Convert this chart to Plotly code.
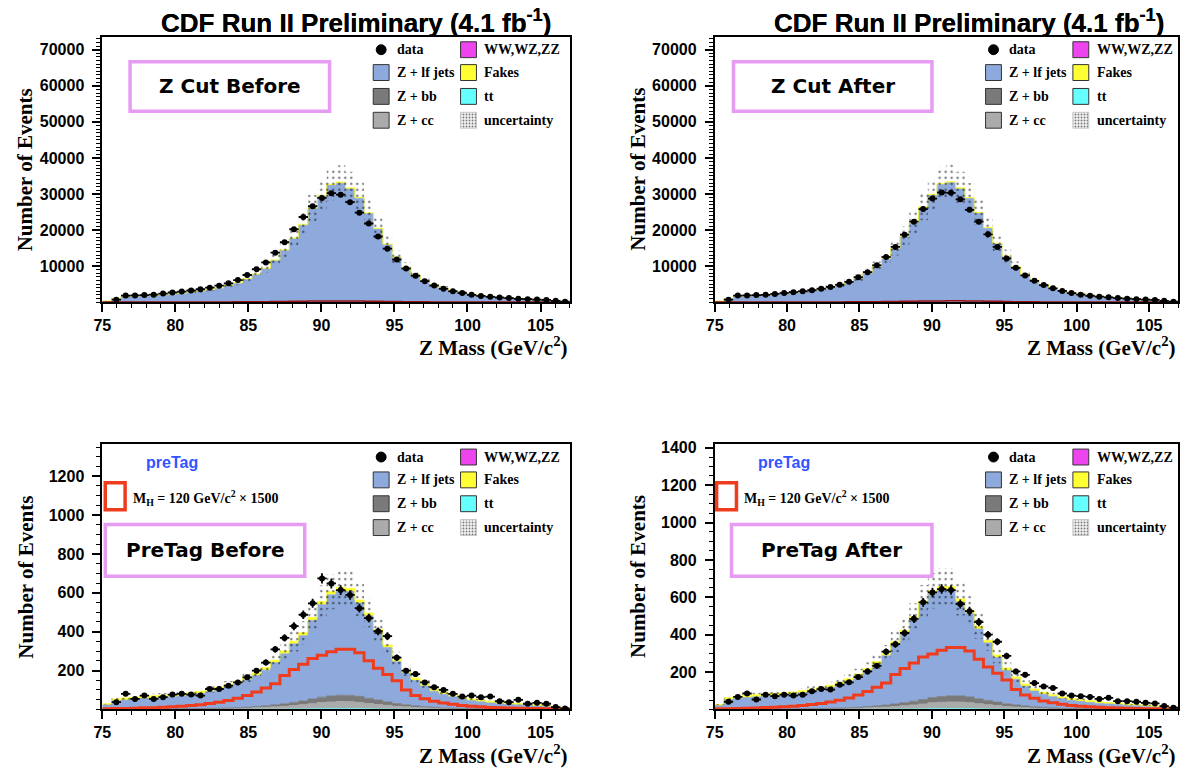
import numpy as np
import plotly.graph_objects as go

W, H = 1190, 769

# ---------------- binning / ticks ----------------
x_lo, bin_w, n_bins = 75.0, 0.64, 50
x_ticks = [75, 80, 85, 90, 95, 100, 105]
y_ticks_zcut = [10000, 20000, 30000, 40000, 50000, 60000, 70000]
y_ticks_pretag_before = [200, 400, 600, 800, 1000, 1200]
y_ticks_pretag_after = [200, 400, 600, 800, 1000, 1200, 1400]

# ---------------- Z cut (top panels) ----------------
data_zcut_before = [0, 650, 1800, 1850, 1950, 2050, 2350, 2650, 2900, 3200,
                    3550, 4000, 4550, 5200, 6100, 7500, 9100, 11000, 13700, 16600,
                    20200, 23600, 26600, 28900, 30200, 29800, 27700, 24800, 21800, 18200,
                    14800, 11800, 9300, 7300, 5800, 4600, 3700, 3000, 2500, 2000,
                    1700, 1450, 1250, 1100, 900, 800, 700, 600, 350, 100]
lf_zcut_before = [250, 800, 1450, 1550, 1650, 1750, 1940, 2190, 2380, 2630,
                  2970, 3360, 3850, 4440, 5230, 6320, 7610, 9200, 11490, 14270,
                  17550, 21330, 25810, 29290, 32380, 32980, 31390, 28810, 24530, 20250,
                  15870, 12290, 9510, 7430, 5850, 4660, 3770, 3080, 2540, 2100,
                  1750, 1510, 1310, 1120, 970, 830, 710, 590, 380, 130]
data_zcut_after = [0, 650, 1800, 1850, 1950, 2000, 2250, 2500, 2750, 3000,
                   3300, 3700, 4200, 4800, 5600, 6900, 8300, 10200, 12500, 15300,
                   18700, 22300, 25800, 28700, 30400, 30300, 28500, 25600, 22300, 18800,
                   15300, 12100, 9500, 7400, 5900, 4700, 3800, 3100, 2500, 2050,
                   1750, 1500, 1300, 1100, 950, 800, 700, 600, 350, 100]
lf_zcut_after = [250, 850, 1500, 1600, 1700, 1800, 1990, 2240, 2480, 2730,
                 3070, 3460, 3950, 4590, 5380, 6520, 7910, 9700, 11990, 14770,
                 18150, 21930, 26110, 29590, 32580, 33080, 31390, 28710, 24630, 20450,
                 16170, 12590, 9710, 7530, 5950, 4760, 3820, 3130, 2590, 2150,
                 1800, 1560, 1330, 1150, 990, 850, 720, 600, 390, 140]
fakes_zcut = [50, 100, 100, 100, 100, 100, 110, 110, 120, 120,
              130, 140, 150, 160, 170, 180, 190, 200, 210, 230,
              250, 270, 290, 310, 320, 320, 310, 290, 270, 250,
              230, 210, 190, 170, 150, 140, 130, 120, 110, 100,
              100, 90, 90, 80, 80, 70, 70, 60, 40, 20]

# ---------------- PreTag (bottom panels) ----------------
data_pretag_before = [0, 37, 80, 54, 71, 54, 63, 76, 80, 76,
                      71, 105, 105, 122, 139, 165, 199, 241, 309, 368,
                      428, 487, 546, 674, 648, 614, 589, 521, 470, 402,
                      377, 266, 199, 182, 139, 114, 100, 80, 66, 71,
                      63, 66, 42, 37, 49, 29, 34, 29, 12, 5]
lf_pretag_before = [23, 44, 46, 50, 53, 57, 60, 63, 66, 72,
                    78, 86, 97, 108, 123, 142, 160, 183, 217, 257,
                    301, 335, 405, 476, 521, 539, 535, 481, 424, 349,
                    279, 215, 163, 131, 106, 83, 70, 59, 48, 41,
                    35, 30, 27, 24, 21, 18, 15, 13, 9, 4]
data_pretag_after = [0, 41, 67, 85, 53, 79, 71, 79, 74, 79,
                     97, 109, 106, 132, 145, 173, 203, 233, 309, 349,
                     409, 485, 573, 626, 644, 639, 564, 526, 467, 400,
                     362, 286, 203, 185, 141, 123, 115, 85, 74, 71,
                     67, 56, 62, 44, 44, 41, 35, 32, 18, 9]
lf_pretag_after = [20, 52, 58, 61, 65, 68, 72, 75, 79, 85,
                   93, 100, 112, 126, 143, 166, 192, 224, 264, 319,
                   373, 435, 511, 556, 573, 569, 503, 447, 373, 308,
                   239, 178, 137, 106, 84, 70, 60, 51, 43, 38,
                   33, 29, 27, 24, 20, 17, 14, 12, 9, 6]
fakes_pretag = [6, 10, 11, 11, 11, 11, 11, 11, 11, 11,
                11, 11, 11, 12, 12, 12, 12, 13, 13, 14,
                14, 15, 15, 16, 16, 16, 16, 15, 15, 14,
                13, 13, 12, 12, 11, 11, 10, 10, 10, 9,
                9, 9, 8, 8, 8, 7, 7, 6, 5, 3]
cc_pretag = [0, 0, 1, 1, 1, 1, 1, 1, 2, 2,
             2, 3, 3, 4, 5, 6, 8, 10, 12, 15,
             18, 22, 26, 30, 33, 35, 34, 31, 27, 23,
             19, 15, 12, 9, 7, 5, 4, 3, 3, 2,
             2, 2, 1, 1, 1, 1, 1, 1, 0, 0]
bb_pretag = [0, 0, 1, 1, 1, 1, 1, 1, 1, 2,
             2, 2, 3, 3, 4, 5, 6, 8, 10, 13,
             16, 20, 24, 28, 31, 33, 33, 31, 27, 23,
             18, 14, 11, 8, 6, 5, 4, 3, 2, 2,
             2, 1, 1, 1, 1, 1, 1, 0, 0, 0]
diboson_pretag = [0, 0, 0, 0, 0, 0, 0, 0, 0, 0,
                  0, 0, 0, 0, 0, 0, 1, 1, 1, 1,
                  2, 2, 2, 3, 3, 3, 3, 3, 2, 2,
                  2, 1, 1, 1, 1, 1, 0, 0, 0, 0,
                  0, 0, 0, 0, 0, 0, 0, 0, 0, 0]
tt_pretag = [0, 0, 0, 0, 0, 0, 0, 0, 0, 0,
             0, 0, 0, 0, 0, 0, 0, 0, 0, 0,
             0, 0, 1, 2, 2, 2, 2, 2, 1, 0,
             0, 0, 0, 0, 0, 0, 0, 0, 0, 0,
             0, 0, 0, 0, 0, 0, 0, 0, 0, 0]
higgs_pretag_before = [3, 4, 5, 6, 8, 9, 11, 13, 16, 20,
                       24, 30, 37, 46, 57, 72, 90, 110, 132, 175,
                       205, 232, 262, 278, 296, 309, 309, 292, 250, 212,
                       180, 148, 100, 72, 55, 42, 33, 26, 20, 16,
                       13, 10, 8, 7, 6, 5, 4, 3, 2, 2]
higgs_pretag_after = [3, 4, 5, 6, 8, 10, 12, 14, 17, 21,
                      26, 32, 40, 49, 61, 77, 96, 118, 141, 187,
                      219, 248, 280, 297, 317, 331, 331, 312, 268, 227,
                      193, 158, 107, 77, 59, 45, 35, 28, 21, 17,
                      14, 11, 9, 7, 6, 5, 4, 3, 2, 2]
unc_rel_zcut = 0.14
unc_rel_pretag = 0.15

# ---------------- styles ----------------
C_LF, C_BB, C_CC = '#8eaadc', '#7a7a7a', '#ababab'
C_VV, C_FAKE, C_TT = '#ee44ee', '#ffff33', '#66ffff'
C_HIGGS = '#f03c1e'
C_BOX = '#e69cf2'
SERIF, SANS, COMIC = 'Liberation Serif', 'Liberation Sans', 'DejaVu Sans'

edges = x_lo + bin_w * np.arange(n_bins + 1)
centers = edges[:-1] + bin_w / 2


def X(p):
    return p / W


def Y(p):
    return 1 - p / H


# panel geometry in pixels: left, right, top, bottom
panels = [
    dict(ax='', l=94, r=565, t=32, b=299),
    dict(ax='2', l=711, r=1178, t=32, b=299),
    dict(ax='3', l=94, r=565, t=442, b=709),
    dict(ax='4', l=711, r=1178, t=442, b=709),
]

fig = go.Figure()


def steps(v):
    v = np.asarray(v, dtype=float)
    return np.append(v, v[-1])


def add_panel(p, comps, data, higgs, higgs_color, higgs_width, unc_rel):
    xa, ya = 'x' + p['ax'], 'y' + p['ax']
    cum = np.zeros(n_bins)
    for i, (vals, color) in enumerate(comps):
        cum = cum + np.asarray(vals, dtype=float)
        fig.add_trace(go.Scatter(
            x=edges, y=steps(cum), mode='lines',
            line=dict(shape='hv', color=color, width=0.8),
            fill='tozeroy' if i == 0 else 'tonexty', fillcolor=color,
            xaxis=xa, yaxis=ya, showlegend=False, hoverinfo='skip'))
    # uncertainty band
    fig.add_trace(go.Scatter(
        x=edges, y=steps(cum * (1 - unc_rel)), mode='lines',
        line=dict(shape='hv', width=0, color='rgba(0,0,0,0)'),
        xaxis=xa, yaxis=ya, showlegend=False, hoverinfo='skip'))
    fig.add_trace(go.Scatter(
        x=edges, y=steps(cum * (1 + unc_rel)), mode='lines',
        line=dict(shape='hv', width=0, color='rgba(0,0,0,0)'),
        fill='tonexty', fillcolor='rgba(0,0,0,0)',
        fillpattern=dict(shape='.', fgcolor='black', bgcolor='rgba(0,0,0,0)',
                         size=6, solidity=0.14, fillmode='overlay'),
        xaxis=xa, yaxis=ya, showlegend=False, hoverinfo='skip'))
    # higgs
    fig.add_trace(go.Scatter(
        x=edges, y=steps(higgs), mode='lines',
        line=dict(shape='hv', color=higgs_color, width=higgs_width),
        xaxis=xa, yaxis=ya, showlegend=False, hoverinfo='skip'))
    # data
    d = np.asarray(data, dtype=float)
    m = d > 0
    fig.add_trace(go.Scatter(
        x=centers[m], y=d[m], mode='markers',
        marker=dict(symbol='circle', size=6, color='black'),
        error_x=dict(type='constant', value=bin_w / 2, thickness=1.8, width=0, color='black'),
        error_y=dict(type='data', array=np.sqrt(d[m]), thickness=1.8, width=0, color='black'),
        xaxis=xa, yaxis=ya, showlegend=False, hoverinfo='skip'))


add_panel(panels[0], [(lf_zcut_before, C_LF), (fakes_zcut, C_FAKE)],
          data_zcut_before, higgs_pretag_before, '#9b1010', 1.5, unc_rel_zcut)
add_panel(panels[1], [(lf_zcut_after, C_LF), (fakes_zcut, C_FAKE)],
          data_zcut_after, higgs_pretag_after, '#9b1010', 1.5, unc_rel_zcut)
pretag_common = [(diboson_pretag, C_VV), (tt_pretag, C_TT), (cc_pretag, C_CC), (bb_pretag, C_BB)]
add_panel(panels[2], pretag_common + [(lf_pretag_before, C_LF), (fakes_pretag, C_FAKE)],
          data_pretag_before, higgs_pretag_before, C_HIGGS, 3, unc_rel_pretag)
add_panel(panels[3], pretag_common + [(lf_pretag_after, C_LF), (fakes_pretag, C_FAKE)],
          data_pretag_after, higgs_pretag_after, C_HIGGS, 3, unc_rel_pretag)

# ---------------- axes ----------------
tickfont = dict(family=SANS, size=16, color='black', weight='bold')
y_specs = [
    (y_ticks_zcut, [0, 73600], 1000),
    (y_ticks_zcut, [0, 73600], 1000),
    (y_ticks_pretag_before, [0, 1365], 50),
    (y_ticks_pretag_after, [0, 1420], 50),
]
layout_axes = {}
for p, (yt, yr, ymin) in zip(panels, y_specs):
    k = p['ax']
    layout_axes['xaxis' + k] = dict(
        domain=[X(p['l']), X(p['r'])], anchor='y' + k, range=[x_lo, x_lo + bin_w * n_bins],
        tickmode='array', tickvals=x_ticks, ticktext=[str(v) for v in x_ticks],
        ticks='outside', ticklen=8, tickwidth=1.5,
        tickcolor='black', minor=dict(dtick=1, tick0=75, ticks='outside', ticklen=4,
                                      tickwidth=1, tickcolor='black'),
        showline=True, linecolor='black', linewidth=1.6, mirror=True,
        showgrid=False, zeroline=False, tickfont=tickfont, fixedrange=True)
    layout_axes['yaxis' + k] = dict(
        domain=[Y(p['b']), Y(p['t'])], anchor='x' + k, range=yr,
        tickmode='array', tickvals=yt, ticktext=[str(v) for v in yt],
        ticks='outside', ticklen=8, tickwidth=1.5, ticklabelstandoff=5,
        tickcolor='black', minor=dict(dtick=ymin, tick0=0, ticks='outside', ticklen=4,
                                      tickwidth=1, tickcolor='black'),
        showline=True, linecolor='black', linewidth=1.6, mirror=True,
        showgrid=False, zeroline=False, tickfont=tickfont, fixedrange=True)

# pixel overlay axis for legend pattern swatches
layout_axes['xaxis5'] = dict(domain=[0, 1], range=[0, W], visible=False, anchor='y5', fixedrange=True)
layout_axes['yaxis5'] = dict(domain=[0, 1], range=[H, 0], visible=False, anchor='x5', fixedrange=True)

shapes, annotations = [], []


def rect(x0, y0, x1, y1, fill, line_color, lw):
    shapes.append(dict(type='rect', xref='paper', yref='paper',
                       x0=X(x0), x1=X(x1), y0=Y(y1), y1=Y(y0),
                       fillcolor=fill, line=dict(color=line_color, width=lw), layer='above'))


def text(x, y, s, font, xanchor='left', yanchor='middle', angle=0):
    annotations.append(dict(xref='paper', yref='paper', x=X(x), y=Y(y), text=s,
                            showarrow=False, xanchor=xanchor, yanchor=yanchor,
                            textangle=angle, font=font))


legend_font = dict(family=SERIF, size=14, color='black', weight='bold')
title_font = dict(family=SANS, size=26, color='black', weight='bold')
axis_title_font = dict(family=SERIF, size=21, color='black', weight='bold')
box_font = dict(family=COMIC, size=20, color='black', weight='bold')

col1_items = [('data', None), ('Z + lf jets', C_LF), ('Z + bb', C_BB), ('Z + cc', C_CC)]
col2_items = [('WW,WZ,ZZ', C_VV), ('Fakes', C_FAKE), ('tt', C_TT), ('uncertainty', 'pattern')]
rows = [13, 36, 60, 84]
box_labels = ['Z Cut Before', 'Z Cut After', 'PreTag Before', 'PreTag After']
box_pos = [(28, 25, 229, 75), (19, 25, 219, 75), (3, 81, 204, 133), (17, 81, 219, 133)]

for idx, p in enumerate(panels):
    L, T, R, B = p['l'], p['t'], p['r'], p['b']
    # title
    text(L + 256, 17, 'CDF Run II Preliminary (4.1 fb<sup>-1</sup>)', title_font, 'center')
    # axis titles
    text(R, B + 45, 'Z Mass (GeV/c<sup>2</sup>)', axis_title_font, 'right')
    text(L - 77, (T + B) / 2, 'Number of Events', axis_title_font, 'center', 'middle', -90)
    # legend
    for (lab, col), r in zip(col1_items, rows):
        cx = L + 273
        if col is None:
            shapes.append(dict(type='circle', xref='paper', yref='paper',
                               x0=X(cx + 3), x1=X(cx + 13), y0=Y(T + r + 5), y1=Y(T + r - 5),
                               fillcolor='black', line=dict(color='black', width=1)))
        else:
            rect(cx, T + r - 8, cx + 16, T + r + 8, col, '#333333', 1)
        text(cx + 22, T + r, lab, legend_font)
    for (lab, col), r in zip(col2_items, rows):
        cx = L + 361
        if col == 'pattern':
            x0, x1, y0, y1 = cx, cx + 16, T + r - 8, T + r + 8
            fig.add_trace(go.Scatter(
                x=[x0, x1, x1, x0, x0], y=[y0, y0, y1, y1, y0], mode='lines',
                line=dict(color='#bbbbbb', width=0.8), fill='toself',
                fillcolor='rgba(0,0,0,0)',
                fillpattern=dict(shape='.', fgcolor='black', bgcolor='#f4f4f4',
                                 size=3, solidity=0.3, fillmode='overlay'),
                xaxis='x5', yaxis='y5', showlegend=False, hoverinfo='skip'))
        else:
            rect(cx, T + r - 8, cx + 16, T + r + 8, col, '#333333', 1)
        text(cx + 22, T + r, lab, legend_font)
    # label box
    bx0, by0, bx1, by1 = box_pos[idx]
    rect(L + bx0, T + by0, L + bx1, T + by1, 'white', C_BOX, 3.5)
    text(L + (bx0 + bx1) / 2, T + (by0 + by1) / 2, box_labels[idx], box_font, 'center')
    # pretag extras
    if idx >= 2:
        text(L + 70, T + 18, 'preTag', dict(family=SANS, size=16, color='#3355ff', weight='bold'),
             'center')
        rx = 3 if idx == 2 else 2
        rect(L + rx, T + 39, L + rx + 20, T + 66, 'white', C_HIGGS, 3.5)
        text(L + rx + 26, T + 54, 'M<sub>H</sub> = 120 GeV/c<sup>2</sup> × 1500', legend_font)

fig.update_layout(
    width=W, height=H, margin=dict(l=0, r=0, t=0, b=0),
    paper_bgcolor='white', plot_bgcolor='rgba(0,0,0,0)',
    showlegend=False, shapes=shapes, annotations=annotations,
    **layout_axes)

fig.write_html('out.html',
               config={'displayModeBar': False},
               post_script="document.body.style.margin='0';"
                           "document.body.style.padding='0';"
                           "document.body.style.overflow='hidden';")
